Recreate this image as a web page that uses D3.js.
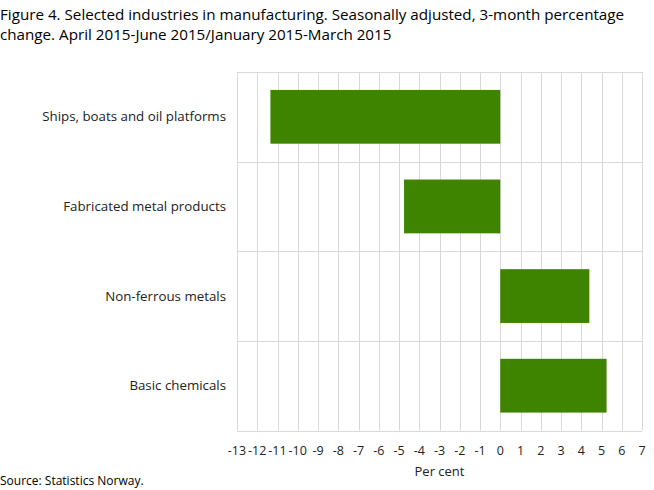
<!DOCTYPE html>
<html>
<head>
<meta charset="utf-8">
<script src="https://cdn.jsdelivr.net/npm/d3@7"></script>
<style>
  body { margin: 0; background: #fff; }
  svg { display: block; font-family: "Open Sans", sans-serif; }
</style>
</head>
<body>
<div id="chart"></div>
<script>
const categories = ["Ships, boats and oil platforms", "Fabricated metal products", "Non-ferrous metals", "Basic chemicals"];
const values = [-11.35, -4.75, 4.4, 5.25];
const xTicks = [-13, -12, -11, -10, -9, -8, -7, -6, -5, -4, -3, -2, -1, 0, 1, 2, 3, 4, 5, 6, 7];
const titleLines = [
    "Figure 4. Selected industries in manufacturing. Seasonally adjusted, 3-month percentage",
    "change. April 2015-June 2015/January 2015-March 2015"
];

const width = 654, height = 490;
const margin = {top: 72, right: 12, bottom: 60, left: 237};

const svg = d3.select("#chart")
    .append("svg")
        .attr("width", width)
        .attr("height", height);

const x = d3.scaleLinear()
    .domain([-13, 7])
    .range([margin.left, width - margin.right]);

const y = d3.scaleBand()
    .domain(categories)
    .range([margin.top, height - margin.bottom + 0.5])
    .paddingInner(0.4)
    .paddingOuter(0.2);

const grid = "#d9d9d9";

// vertical grid
svg.append("g")
    .selectAll("line")
    .data(xTicks)
    .join("line")
        .attr("x1", d => Math.round(x(d)) + 0.5)
        .attr("x2", d => Math.round(x(d)) + 0.5)
        .attr("y1", y.range()[0])
        .attr("y2", y.range()[1])
        .attr("stroke", grid);

// horizontal category separators
const bands = d3.range(categories.length + 1).map(i => y.range()[0] + i * (y.range()[1] - y.range()[0]) / categories.length);
svg.append("g")
    .selectAll("line")
    .data(bands)
    .join("line")
        .attr("x1", x(-13))
        .attr("x2", x(7))
        .attr("y1", d => Math.round(d) + 0.5)
        .attr("y2", d => Math.round(d) + 0.5)
        .attr("stroke", grid);

// bars
svg.append("g")
    .selectAll("rect")
    .data(categories.map((c, i) => ({c, v: values[i]})))
    .join("rect")
        .attr("x", d => x(Math.min(0, d.v)))
        .attr("width", d => Math.abs(x(d.v) - x(0)))
        .attr("y", d => y(d.c))
        .attr("height", y.bandwidth())
        .attr("fill", "#3f8400");

// category labels
svg.append("g")
    .selectAll("text")
    .data(categories)
    .join("text")
        .attr("x", margin.left - 11)
        .attr("y", d => y(d) + y.bandwidth() / 2)
        .attr("dy", "0.35em")
        .attr("text-anchor", "end")
        .attr("font-size", 13.3)
        .attr("fill", "#222")
        .text(d => d);

// x tick labels
svg.append("g")
    .selectAll("text")
    .data(xTicks)
    .join("text")
        .attr("x", d => x(d))
        .attr("y", 455)
        .attr("text-anchor", "middle")
        .attr("font-size", 12.5)
        .attr("fill", "#222")
        .text(d => d);

svg.append("text")
    .attr("x", (x.range()[0] + x.range()[1]) / 2)
    .attr("y", 476)
    .attr("text-anchor", "middle")
    .attr("font-size", 13)
    .attr("fill", "#222")
    .text("Per cent");

// title
svg.append("g")
    .selectAll("text")
    .data(titleLines)
    .join("text")
        .attr("x", 0)
        .attr("y", (_, i) => 20 + i * 19.5)
        .attr("font-size", 15.2)
        .attr("fill", "#000")
        .text(d => d);

svg.append("text")
    .attr("x", 0)
    .attr("y", 485)
    .attr("font-size", 12)
    .attr("fill", "#000")
    .text("Source: Statistics Norway.");
</script>
</body>
</html>
